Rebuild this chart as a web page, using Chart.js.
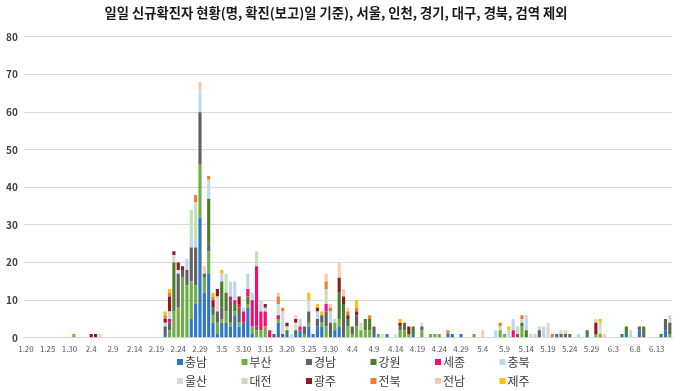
<!DOCTYPE html>
<html>
<head>
<meta charset="utf-8">
<script src="https://cdn.jsdelivr.net/npm/chart.js@4"></script>
<style>
  body { margin: 0; background: #fff; }
  #wrap { width: 680px; height: 391px; position: relative; }
</style>
</head>
<body>
<div id="wrap"><canvas id="dailyChart"></canvas></div>
<script>
// 1.20 ~ 6.16 (2020), one bar per day
const startDate = new Date(2020, 0, 20);
const dayCount = 149;
const dates = [];
for (let i = 0; i < dayCount; i++) {
    const d = new Date(startDate.getFullYear(), startDate.getMonth(), startDate.getDate() + i);
    dates.push((d.getMonth() + 1) + '.' + d.getDate());
}

const yTicks = [0, 10, 20, 30, 40, 50, 60, 70, 80];

// rows of 10 days: 1.20, 1.30, 2.9, 2.19, 2.29, 3.10, 3.20, 3.30, 4.9, 4.19, 4.29, 5.9, 5.19, 5.29, 6.8
const chungnam = [
    0,0,0,0,0,0,0,0,0,0, 0,0,0,0,0,0,0,0,0,0, 0,0,0,0,0,0,0,0,0,0,
    0,0,1,0,0,0,0,0,5,9, 32,12,17,4,1,4,4,3,6,3, 4,8,1,0,0,0,0,0,4,0,
    1,0,1,2,0,3,1,3,3,0, 0,2,3,0,0,0,0,0,0,0, 1,0,0,1,0,0,0,0,0,1,
    0,0,0,0,0,0,0,1,1,0, 1,0,0,0,0,0,0,0,0,0, 0,0,0,0,0,0,0,0,0,0,
    0,0,1,0,0,0,0,0,0,1, 0,0,0,0,0,0,0,1,1,0, 0,2,0,0,0,0,0,2,0
];
const busan = [
    0,0,0,0,0,0,0,0,0,0, 0,0,0,0,0,0,0,0,0,0, 0,0,0,0,0,0,0,0,0,0,
    0,0,0,2,7,8,16,14,10,5, 14,4,6,2,3,1,3,1,1,1, 0,1,2,2,2,3,0,0,1,0,
    0,0,0,0,1,1,0,0,1,3, 0,2,2,0,3,1,3,2,2,2, 0,1,0,0,0,0,2,2,1,0,
    0,2,0,1,1,1,0,0,0,0, 0,0,0,1,0,0,0,0,0,2, 1,0,0,0,3,0,0,0,0,0,
    0,0,0,0,0,0,0,0,0,0, 0,1,1,0,0,0,0,0,0,0, 0,0,0,0,0,0,0,0,1
];
const gyeongnam = [
    0,0,0,0,0,0,0,0,0,0, 0,0,0,0,0,0,0,0,0,0, 0,0,0,0,0,0,0,0,0,0,
    0,0,2,2,0,9,2,4,9,10, 14,1,2,0,3,3,0,6,0,4, 0,0,0,1,0,0,0,1,0,1,
    0,0,0,0,2,3,0,2,2,4, 4,0,0,5,0,2,3,0,0,0, 2,0,0,0,0,0,1,0,0,0,
    0,1,0,0,0,0,0,0,0,0, 0,0,0,0,0,0,0,0,0,0, 0,0,0,1,1,0,0,0,2,0,
    0,0,0,1,1,0,0,0,0,0, 0,0,0,0,0,0,0,0,0,0, 0,1,1,0,0,0,0,3,3
];
const gangwon = [
    0,0,0,0,0,0,0,0,0,0, 0,0,0,0,0,0,0,0,0,0, 0,0,0,0,0,0,0,0,0,0,
    0,0,0,0,13,0,0,0,0,0, 0,0,12,2,0,7,5,0,2,0, 0,2,0,0,0,0,0,0,0,0,
    1,0,1,0,0,0,0,0,0,0, 0,0,7,4,2,0,0,0,3,3, 0,0,0,0,0,0,0,2,0,2,
    0,0,0,0,0,0,0,0,0,0, 0,0,0,0,0,0,0,0,0,0, 0,0,0,0,0,2,0,0,0,0,
    0,0,0,0,0,1,0,0,0,1, 0,0,0,0,0,0,0,0,2,0, 0,0,2,0,0,0,1,0,0
];
const sejong = [
    0,0,0,0,0,0,0,0,0,0, 0,0,0,0,0,0,0,0,0,0, 0,0,0,0,0,0,0,0,0,0,
    0,0,0,1,0,0,0,0,0,0, 0,0,0,0,0,0,0,1,1,1, 3,2,7,16,5,4,2,0,1,0,
    0,0,0,1,0,0,0,0,0,2, 0,0,0,0,0,0,0,0,0,0, 0,0,0,0,0,0,0,0,0,0,
    0,0,0,0,0,0,0,0,0,0, 0,0,0,0,0,0,0,0,0,0, 0,0,2,0,0,0,0,0,0,0,
    0,0,0,0,0,0,0,0,0,0, 0,0,0,0,0,0,0,0,0,0, 0,0,0,0,0,0,0,0,0
];
const chungbuk = [
    0,0,0,0,0,0,0,0,0,0, 0,0,0,0,0,0,0,0,0,0, 0,0,0,0,0,0,0,0,0,0,
    0,0,1,2,0,0,0,3,3,2, 5,0,4,0,0,2,0,4,5,0, 1,4,2,0,3,1,0,0,0,0,
    0,1,0,2,0,0,0,2,0,0, 3,0,0,0,0,0,0,0,0,0, 0,0,0,0,0,0,0,0,0,0,
    0,0,0,0,0,0,0,0,0,0, 0,0,0,0,0,0,0,0,2,0, 0,2,3,0,0,3,0,1,0,3,
    0,0,0,0,0,0,0,1,0,0, 0,0,0,0,0,0,0,0,0,2, 0,0,0,0,0,0,0,0,0
];
const ulsan = [
    0,0,0,0,0,0,0,0,0,0, 0,0,0,0,0,0,0,0,0,0, 0,0,0,0,0,0,0,0,0,0,
    0,0,0,0,2,1,0,0,0,0, 1,0,0,0,4,0,0,0,0,0, 0,0,0,0,0,0,0,0,3,6,
    1,0,2,0,0,3,0,0,0,0, 0,0,0,0,0,0,0,0,0,0, 0,0,1,0,0,1,0,0,0,0,
    0,1,0,0,0,0,0,0,0,0, 0,0,0,0,0,0,0,0,0,0, 0,0,0,0,0,1,0,0,0,0,
    4,0,0,1,0,0,0,0,0,0, 0,0,2,0,0,0,0,0,0,0, 0,0,0,0,0,0,0,0,0
];
const daejeon = [
    0,0,0,0,0,0,0,0,0,0, 0,0,0,0,0,0,0,0,0,0, 0,0,0,0,0,0,0,0,0,0,
    0,0,0,0,0,0,0,0,7,10, 0,0,1,0,0,0,5,0,0,0, 0,0,0,4,0,0,0,0,0,0,
    0,0,0,0,0,0,0,0,0,4, 0,1,0,0,0,0,0,2,0,0, 0,0,0,0,0,0,0,0,0,0,
    0,0,0,0,0,0,0,0,0,0, 0,0,0,0,0,0,0,0,0,1, 0,0,0,2,1,0,0,0,1,0,
    0,0,0,0,1,0,0,0,0,0, 0,0,1,0,0,0,0,0,0,0, 0,0,0,0,0,0,0,0,2
];
const gwangju = [
    0,0,0,0,0,0,0,0,0,0, 0,0,0,0,0,1,1,0,0,0, 0,0,0,0,0,0,0,0,0,0,
    0,0,1,4,1,2,1,0,0,0, 0,0,0,2,2,0,0,0,0,2, 0,0,0,0,0,1,0,0,0,0,
    1,0,1,0,0,0,0,1,0,0, 0,0,4,2,1,0,1,0,0,0, 0,0,0,0,0,0,1,0,2,0,
    0,0,0,0,0,0,0,0,0,0, 0,0,0,0,0,0,0,0,0,0, 0,0,0,0,0,0,0,0,0,0,
    0,0,0,0,0,0,0,0,0,0, 0,3,0,0,0,0,0,0,0,0, 0,0,0,0,0,0,0,0,0
];
const jeonbuk = [
    0,0,0,0,0,0,0,0,0,0, 0,1,0,0,0,0,0,0,0,0, 0,0,0,0,0,0,0,0,0,0,
    0,0,1,1,0,0,0,0,0,2, 0,0,1,1,0,0,0,0,0,0, 0,0,0,0,0,0,0,0,2,1,
    0,0,0,0,0,0,0,0,0,2, 1,0,0,0,1,0,1,0,0,1, 0,0,0,0,0,0,0,0,0,0,
    0,0,0,0,0,0,0,1,0,0, 0,0,0,0,0,0,0,0,0,1, 0,0,0,0,1,0,0,0,0,0,
    0,1,0,0,0,0,0,0,0,0, 0,0,0,0,0,0,0,0,0,0, 0,0,0,0,0,0,0,0,0
];
const jeonnam = [
    0,0,0,0,0,0,0,0,0,0, 0,0,0,0,0,0,0,1,0,0, 0,0,0,0,0,0,0,0,0,0,
    0,0,0,0,0,0,0,0,0,0, 2,2,0,0,0,0,0,0,0,0, 0,0,0,0,0,0,0,0,1,0,
    0,0,1,0,0,0,0,0,0,2, 1,0,4,2,1,0,0,0,0,0, 0,0,0,0,0,0,0,0,0,0,
    0,0,0,0,0,0,0,0,0,0, 0,0,0,0,0,2,0,0,0,0, 0,0,0,0,0,0,1,0,0,0,
    0,0,0,0,0,0,0,0,0,0, 0,1,0,1,0,0,0,0,0,0, 0,0,0,0,0,0,0,0,0
];
const jeju = [
    0,0,0,0,0,0,0,0,0,0, 0,0,0,0,0,0,0,0,0,0, 0,0,0,0,0,0,0,0,0,0,
    0,0,1,1,0,0,0,0,0,0, 0,0,0,1,0,1,0,0,0,0, 0,0,0,0,0,0,0,0,0,0,
    0,0,0,0,0,2,0,1,1,0, 0,0,0,0,0,0,2,0,0,0, 0,0,0,0,0,0,1,0,0,0,
    0,0,0,0,0,0,0,0,0,0, 0,0,0,0,0,0,0,0,0,0, 0,1,0,0,0,0,0,0,0,0,
    0,0,0,0,0,0,0,0,0,0, 0,0,1,0,0,0,0,0,0,0, 0,0,0,0,0,0,0,0,0
];

const regions = ['충남', '부산', '경남', '강원', '세종', '충북', '울산', '대전', '광주', '전북', '전남', '제주'];
const series = [chungnam, busan, gyeongnam, gangwon, sejong, chungbuk, ulsan, daejeon, gwangju, jeonbuk, jeonnam, jeju];
const colors = ['#2F76C6', '#70AD47', '#626262', '#4E7C2F', '#FF0A6C', '#BDD7EE',
                '#D9D9D9', '#C5E0B4', '#8E1B1B', '#ED7D31', '#F8CBAD', '#FFC000'];

Chart.defaults.font.family = "'Noto Sans CJK KR', 'Noto Sans', sans-serif";

// legend laid out as two rows of six, like the original
const gridLegend = {
    id: 'gridLegend',
    afterDraw(chart) {
        const ctx = chart.ctx;
        ctx.save();
        ctx.font = "12px 'Noto Sans CJK KR'";
        ctx.textBaseline = 'middle';
        ctx.textAlign = 'left';
        chart.data.datasets.forEach((ds, k) => {
            const x = 177 + (k % 6) * 64.5;
            const y = 362 + Math.floor(k / 6) * 19;
            ctx.fillStyle = ds.backgroundColor;
            ctx.fillRect(x, y - 3, 6, 6);
            ctx.fillStyle = '#404040';
            ctx.fillText(ds.label, x + 8, y + 0.5);
        });
        ctx.restore();
    }
};

const dailyChart = new Chart(
    document.getElementById('dailyChart'),
    {
        type: 'bar',
        data: {
            labels: dates,
            datasets: regions.map((name, k) => ({
                label: name,
                data: series[k],
                backgroundColor: colors[k],
                borderWidth: 0,
                barPercentage: 0.72,
                categoryPercentage: 1
            }))
        },
        options: {
            responsive: true,
            maintainAspectRatio: false,
            animation: false,
            layout: { padding: { left: 0, right: 8, top: 0, bottom: 31.6 } },
            plugins: {
                title: {
                    display: true,
                    text: '일일 신규확진자 현황(명, 확진(보고)일 기준), 서울, 인천, 경기, 대구, 경북, 검역 제외',
                    color: '#1a1a1a',
                    font: { size: 13.3, weight: 'bold' },
                    padding: { top: 5, bottom: 16 }
                },
                legend: { display: false },
                tooltip: { enabled: false }
            },
            scales: {
                x: {
                    stacked: true,
                    grid: { display: false, drawTicks: false },
                    border: { display: true, color: '#d9d9d9' },
                    ticks: {
                        autoSkip: false,
                        maxRotation: 0,
                        minRotation: 0,
                        padding: 6,
                        color: '#595959',
                        font: { size: 8 },
                        callback: (v, i) => (i % 5 === 0 ? dates[i] : '')
                    }
                },
                y: {
                    stacked: true,
                    min: yTicks[0],
                    max: yTicks[yTicks.length - 1],
                    grid: { color: '#d9d9d9', drawTicks: false },
                    border: { display: false },
                    ticks: {
                        stepSize: yTicks[1] - yTicks[0],
                        padding: 6,
                        color: '#404040',
                        font: { size: 10, weight: 'bold' }
                    }
                }
            }
        },
        plugins: [gridLegend]
    }
);
</script>
</body>
</html>
